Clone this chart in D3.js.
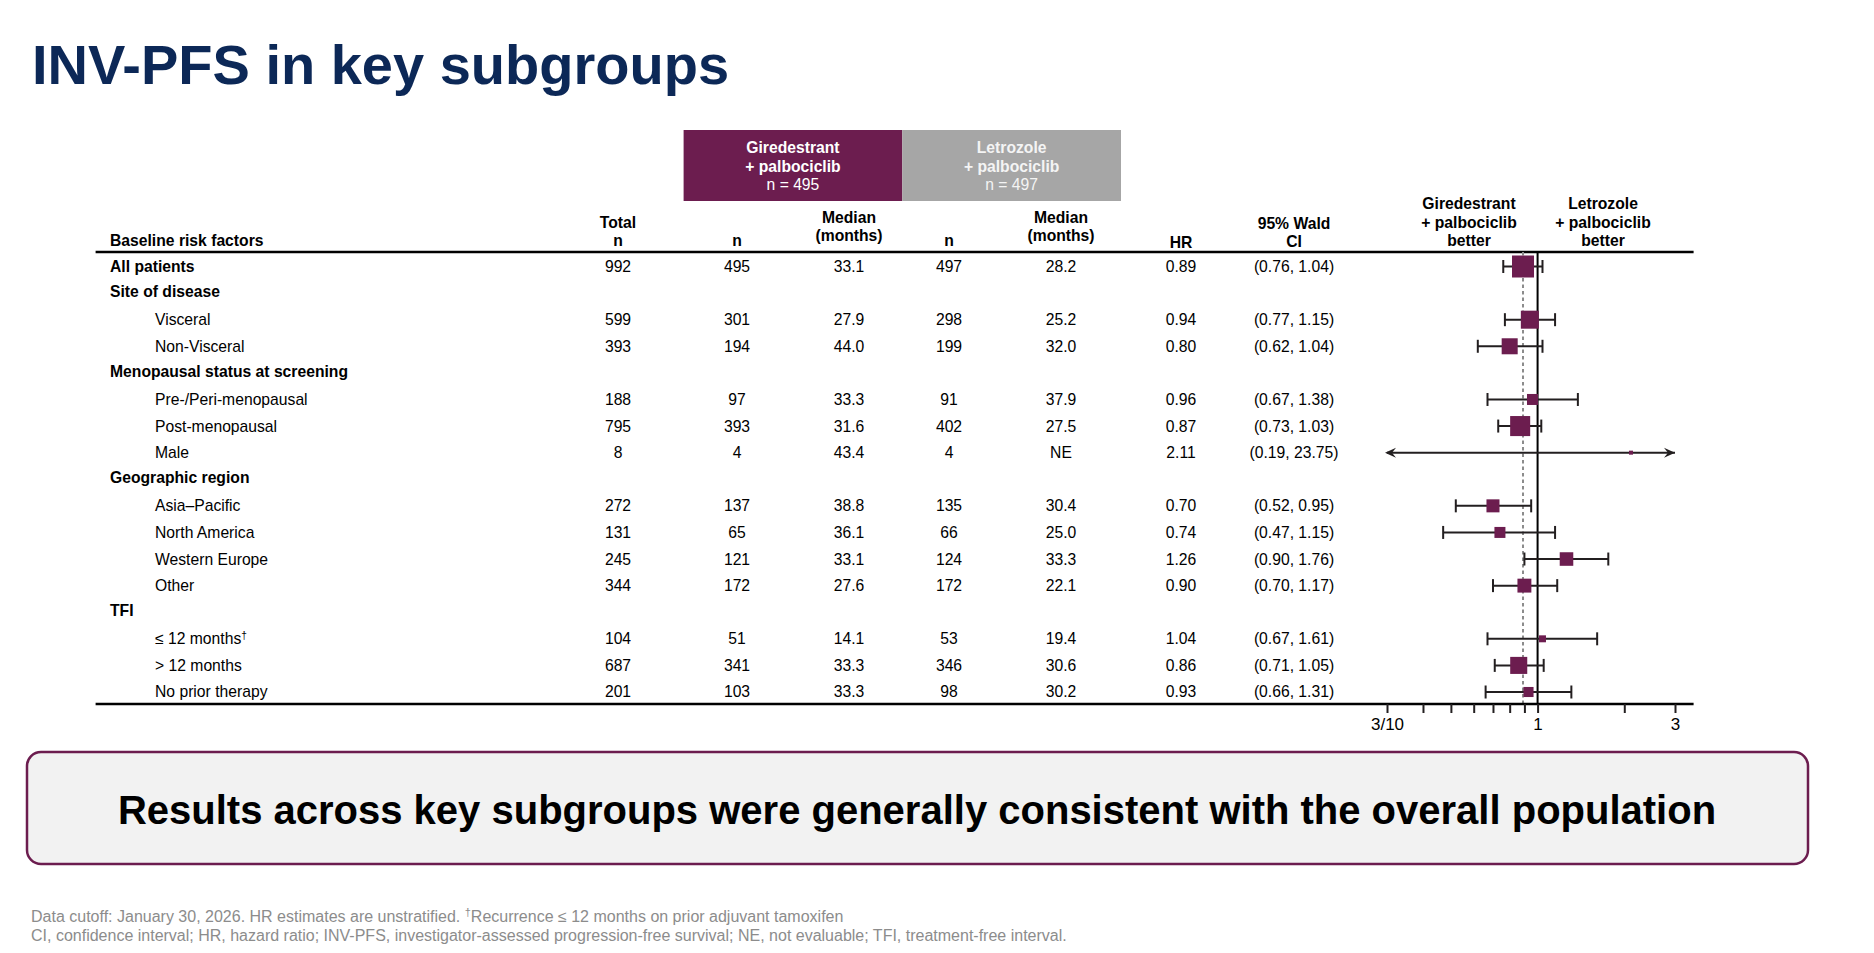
<!DOCTYPE html>
<html>
<head>
<meta charset="utf-8">
<script src="https://cdn.jsdelivr.net/npm/d3@7/dist/d3.min.js"></script>
<style>
  html, body { margin: 0; padding: 0; background: #ffffff; }
  svg { display: block; font-family: "Liberation Sans", Arial, Helvetica, sans-serif; }
</style>
</head>
<body>
<svg id="chart" width="1874" height="953"></svg>
<script>
// ---------------- DATA ----------------
const rowLabels = ["All patients", "Site of disease", "Visceral", "Non-Visceral",
  "Menopausal status at screening", "Pre-/Peri-menopausal", "Post-menopausal", "Male",
  "Geographic region", "Asia\u2013Pacific", "North America", "Western Europe", "Other",
  "TFI", "\u2264 12 months", "> 12 months", "No prior therapy"];
const rowLevel = [0, 0, 1, 1, 0, 1, 1, 1, 0, 1, 1, 1, 1, 0, 1, 1, 1];
const rowDagger = [false, false, false, false, false, false, false, false, false, false, false, false, false, false, true, false, false];
const totalN = [992, null, 599, 393, null, 188, 795, 8, null, 272, 131, 245, 344, null, 104, 687, 201];
const giredN = [495, null, 301, 194, null, 97, 393, 4, null, 137, 65, 121, 172, null, 51, 341, 103];
const giredMedian = ["33.1", null, "27.9", "44.0", null, "33.3", "31.6", "43.4", null, "38.8", "36.1", "33.1", "27.6", null, "14.1", "33.3", "33.3"];
const letroN = [497, null, 298, 199, null, 91, 402, 4, null, 135, 66, 124, 172, null, 53, 346, 98];
const letroMedian = ["28.2", null, "25.2", "32.0", null, "37.9", "27.5", "NE", null, "30.4", "25.0", "33.3", "22.1", null, "19.4", "30.6", "30.2"];
const hr = [0.89, null, 0.94, 0.80, null, 0.96, 0.87, 2.11, null, 0.70, 0.74, 1.26, 0.90, null, 1.04, 0.86, 0.93];
const ciLow = [0.76, null, 0.77, 0.62, null, 0.67, 0.73, 0.19, null, 0.52, 0.47, 0.90, 0.70, null, 0.67, 0.71, 0.66];
const ciHigh = [1.04, null, 1.15, 1.04, null, 1.38, 1.03, 23.75, null, 0.95, 1.15, 1.76, 1.17, null, 1.61, 1.05, 1.31];
// relative marker weight (area, % of overall population marker)
const boxWeight = [100, null, 67, 53, null, 25, 83, 3.3, null, 35, 25, 38, 40, null, 10, 60, 21];
const overallHR = 0.89;
const axisTicks = [0.3, 0.4, 0.5, 0.6, 0.7, 0.8, 0.9, 1, 2, 3];
const axisTickLabels = {0.3: "3/10", 1: "1", 3: "3"};
const axisDomain = [0.3, 3];

const armNames = [["Giredestrant", "+ palbociclib", "n = 495"], ["Letrozole", "+ palbociclib", "n = 497"]];
const colHeaders = {
  factor: ["Baseline risk factors"], total: ["Total", "n"], n1: ["n"], med1: ["Median", "(months)"],
  n2: ["n"], med2: ["Median", "(months)"], hr: ["HR"], ci: ["95% Wald", "CI"]
};
const favourLabels = [["Giredestrant", "+ palbociclib", "better"], ["Letrozole", "+ palbociclib", "better"]];
const titleText = "INV-PFS in key subgroups";
const calloutText = "Results across key subgroups were generally consistent with the overall population";
const footnote1 = ["Data cutoff: January 30, 2026. HR estimates are unstratified. ", "\u2020", "Recurrence \u2264 12 months on prior adjuvant tamoxifen"];
const footnote2 = "CI, confidence interval; HR, hazard ratio; INV-PFS, investigator-assessed progression-free survival; NE, not evaluable; TFI, treatment-free interval.";

// ---------------- STYLE / LAYOUT ----------------
const PURPLE = "#6c1d4f";
const GREY = "#a6a6a6";
const NAVY = "#0c2857";
const INK = "#231f20";
const FS = 15.7;

const svg = d3.select("#chart");

// title
svg.append("text").attr("x", 32).attr("y", 84)
  .attr("font-size", 56).attr("font-weight", "bold").attr("fill", NAVY)
  .text(titleText);

// table geometry
const tableLeft = 95.6, tableRight = 1693.6;
const headerRuleY = 252, bottomRuleY = 704;
const y = d3.scaleLinear().domain([0, rowLabels.length - 1]).range([266.5, 692]);
const x = d3.scaleLog().domain(axisDomain).range([1387, 1675]);

const cols = { total: 618, n1: 737, med1: 849, n2: 949, med2: 1061, hr: 1181, ci: 1294 };

// arm header boxes
const armBoxes = [{x0: 683.6, x1: 902.3, fill: PURPLE, text: "#ffffff"}, {x0: 902.3, x1: 1121, fill: GREY, text: "#f4f4f4"}];
armBoxes.forEach((b, i) => {
  svg.append("rect").attr("x", b.x0).attr("y", 130).attr("width", b.x1 - b.x0).attr("height", 71).attr("fill", b.fill);
  const cx = (b.x0 + b.x1) / 2;
  armNames[i].forEach((t, j) => {
    svg.append("text").attr("x", cx).attr("y", 153 + j * 18.5)
      .attr("text-anchor", "middle").attr("font-size", FS)
      .attr("font-weight", j < 2 ? "bold" : "normal").attr("fill", b.text).text(t);
  });
});

// column headers
function headerText(cx, lines, anchor, lastY) {
  const n = lines.length;
  lines.forEach((t, j) => {
    svg.append("text").attr("x", cx).attr("y", lastY - (n - 1 - j) * 18.5)
      .attr("text-anchor", anchor).attr("font-size", FS).attr("font-weight", "bold")
      .attr("fill", "#000").text(t);
  });
}
headerText(110, colHeaders.factor, "start", 246);
headerText(cols.total, colHeaders.total, "middle", 246);
headerText(cols.n1, colHeaders.n1, "middle", 246);
headerText(cols.med1, colHeaders.med1, "middle", 241);
headerText(cols.n2, colHeaders.n2, "middle", 246);
headerText(cols.med2, colHeaders.med2, "middle", 241);
headerText(cols.hr, colHeaders.hr, "middle", 248);
headerText(cols.ci, colHeaders.ci, "middle", 247);
headerText(1469, favourLabels[0], "middle", 246);
headerText(1603, favourLabels[1], "middle", 246);

// rules
svg.append("line").attr("x1", tableLeft).attr("x2", tableRight).attr("y1", headerRuleY).attr("y2", headerRuleY)
  .attr("stroke", "#000").attr("stroke-width", 2.5);

// row labels
rowLabels.forEach((lab, i) => {
  const isHeader = rowLevel[i] === 0;
  const t = svg.append("text").attr("x", isHeader ? 110 : 155).attr("y", y(i) - (isHeader && i > 0 ? 1.5 : 0))
    .attr("dy", "0.35em").attr("font-size", FS).attr("font-weight", isHeader ? "bold" : "normal").attr("fill", "#000");
  t.append("tspan").text(lab);
  if (rowDagger[i]) t.append("tspan").attr("font-size", FS * 0.65).attr("dy", "-0.55em").text("\u2020");
});

// numeric columns
function col(cx, arr, fmt) {
  arr.forEach((v, i) => {
    if (v === null) return;
    svg.append("text").attr("x", cx).attr("y", y(i)).attr("dy", "0.35em")
      .attr("text-anchor", "middle").attr("font-size", FS).attr("fill", "#000").text(fmt ? fmt(v, i) : v);
  });
}
col(cols.total, totalN);
col(cols.n1, giredN);
col(cols.med1, giredMedian);
col(cols.n2, letroN);
col(cols.med2, letroMedian);
col(cols.hr, hr, v => d3.format(".2f")(v));
col(cols.ci, ciLow, (v, i) => `(${d3.format(".2f")(v)}, ${d3.format(".2f")(ciHigh[i])})`);

// forest plot reference lines
svg.append("line").attr("x1", x(overallHR)).attr("x2", x(overallHR)).attr("y1", headerRuleY).attr("y2", bottomRuleY)
  .attr("stroke", "#8c8c8c").attr("stroke-width", 2).attr("stroke-dasharray", "3.5,3");
svg.append("line").attr("x1", x(1)).attr("x2", x(1)).attr("y1", headerRuleY).attr("y2", bottomRuleY)
  .attr("stroke", "#000").attr("stroke-width", 2);

// CIs
const [dMin, dMax] = axisDomain;
const capH = 6.5;
const forest = svg.append("g");
hr.forEach((h, i) => {
  if (h === null) return;
  const lo = Math.max(ciLow[i], dMin), hi = Math.min(ciHigh[i], dMax);
  const cy = y(i);
  forest.append("line").attr("x1", x(lo)).attr("x2", x(hi)).attr("y1", cy).attr("y2", cy)
    .attr("stroke", INK).attr("stroke-width", 2);
  if (ciLow[i] >= dMin) {
    forest.append("line").attr("x1", x(lo)).attr("x2", x(lo)).attr("y1", cy - capH).attr("y2", cy + capH).attr("stroke", INK).attr("stroke-width", 2);
  } else {
    const tx = x(dMin) - 2;
    forest.append("path").attr("d", `M${tx},${cy} L${tx + 11},${cy - 5} L${tx + 7},${cy} L${tx + 11},${cy + 5} Z`).attr("fill", INK);
  }
  if (ciHigh[i] <= dMax) {
    forest.append("line").attr("x1", x(hi)).attr("x2", x(hi)).attr("y1", cy - capH).attr("y2", cy + capH).attr("stroke", INK).attr("stroke-width", 2);
  } else {
    const tx = x(dMax);
    forest.append("path").attr("d", `M${tx},${cy} L${tx - 11},${cy - 5} L${tx - 7},${cy} L${tx - 11},${cy + 5} Z`).attr("fill", INK);
  }
});
const side = d3.scaleSqrt().domain([0, 100]).range([0, 22]);
hr.forEach((h, i) => {
  if (h === null) return;
  const s = side(boxWeight[i]);
  forest.append("rect").attr("x", x(h) - s / 2).attr("y", y(i) - s / 2).attr("width", s).attr("height", s).attr("fill", PURPLE);
});

// bottom rule + axis
svg.append("line").attr("x1", tableLeft).attr("x2", tableRight).attr("y1", bottomRuleY).attr("y2", bottomRuleY)
  .attr("stroke", "#000").attr("stroke-width", 2.5);
const axisG = svg.append("g").attr("transform", `translate(0,${bottomRuleY})`)
  .call(d3.axisBottom(x).tickValues(axisTicks).tickSize(9).tickPadding(5)
    .tickFormat(d => axisTickLabels[d] || ""));
axisG.select(".domain").remove();
axisG.selectAll(".tick line").attr("stroke", INK).attr("stroke-width", 2);
axisG.selectAll(".tick text").attr("font-size", 17).attr("fill", "#000")
  .attr("font-family", "'Liberation Sans', Arial, sans-serif");

// callout
svg.append("rect").attr("x", 27).attr("y", 752).attr("width", 1781).attr("height", 112).attr("rx", 14)
  .attr("fill", "#f2f2f2").attr("stroke", PURPLE).attr("stroke-width", 2.5);
svg.append("text").attr("x", 917).attr("y", 810).attr("dy", "0.35em").attr("text-anchor", "middle")
  .attr("font-size", 40).attr("font-weight", "bold").attr("fill", "#000").text(calloutText);

// footnotes
const fn1 = svg.append("text").attr("x", 31).attr("y", 922).attr("font-size", 16).attr("fill", "#8c8c8c");
fn1.append("tspan").text(footnote1[0]);
fn1.append("tspan").attr("font-size", 11).attr("dy", -6).text(footnote1[1]);
fn1.append("tspan").attr("dy", 6).text(footnote1[2]);
svg.append("text").attr("x", 31).attr("y", 941).attr("font-size", 16).attr("fill", "#8c8c8c").text(footnote2);
</script>
</body>
</html>
